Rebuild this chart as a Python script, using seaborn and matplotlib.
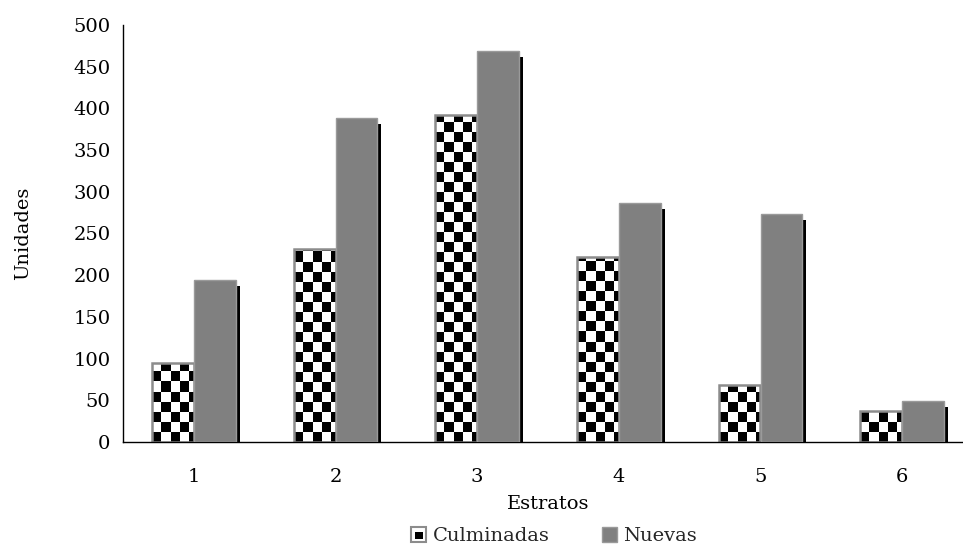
import numpy as np
import pandas as pd
import matplotlib
matplotlib.use("Agg")
import matplotlib.pyplot as plt
import seaborn as sns
from matplotlib.patches import Rectangle
from matplotlib.legend_handler import HandlerBase
from matplotlib import patheffects as pe

# ---- data ----
estratos = ["1", "2", "3", "4", "5", "6"]
culminadas = [95, 232, 392, 222, 68, 37]
nuevas = [194, 388, 469, 287, 273, 49]
series_names = ["Culminadas", "Nuevas"]
y_ticks = [0, 50, 100, 150, 200, 250, 300, 350, 400, 450, 500]

df = pd.DataFrame({
    "Estratos": estratos * 2,
    "Unidades": culminadas + nuevas,
    "Serie": [series_names[0]] * len(estratos) + [series_names[1]] * len(estratos),
})

sns.set_theme(style="white")
plt.rcParams["font.family"] = ["DejaVu Serif"]
FS = 14
plt.rcParams["font.size"] = FS

W, H, DPI = 963, 546, 100
fig = plt.figure(figsize=(W / DPI, H / DPI), dpi=DPI)
ax = fig.add_axes([123 / W, 1 - 442 / H, 850 / W, (442 - 25) / H])

GRAY = "#808080"
sns.barplot(data=df, x="Estratos", y="Unidades", hue="Serie", order=estratos,
            hue_order=series_names, palette=["white", GRAY], width=0.59,
            saturation=1, legend=False, ax=ax, errorbar=None)

ax.set_ylim(0, 500)
ax.set_xlim(-0.5, len(estratos) - 0.5)
ax.set_yticks(y_ticks)
ax.set_yticklabels([str(v) for v in y_ticks], fontsize=FS)
ax.set_xticks(range(len(estratos)))
ax.set_xticklabels(estratos, fontsize=FS)
ax.set_xticks(np.arange(-0.5, len(estratos), 1.0), minor=True)
ax.tick_params(axis="x", which="major", length=0, pad=19)
ax.tick_params(axis="x", which="minor", length=6, width=1, color="black", direction="out")
ax.tick_params(axis="y", which="major", length=5, width=1, color="black", direction="out", pad=4)
ax.tick_params(axis="both", labelcolor="black")
for s in ["top", "right"]:
    ax.spines[s].set_visible(False)
for s in ["left", "bottom"]:
    ax.spines[s].set_color("black")
    ax.spines[s].set_linewidth(1)
ax.set_xlabel("Estratos", fontsize=FS, labelpad=6, color="black")
ax.set_ylabel("Unidades", fontsize=FS, labelpad=30, color="black")
ax.grid(False)

n = len(estratos)
cul_patches = ax.patches[:n]
nue_patches = ax.patches[n:2 * n]

# Nuevas: gray with drop shadow
for p in nue_patches:
    p.set_edgecolor("#9a9a9a")
    p.set_linewidth(1.0)
    p.set_zorder(3)
    p.set_path_effects([pe.SimplePatchShadow(offset=(3.0, -4.3), shadow_rgbFace="black", alpha=1.0),
                        pe.Normal()])

# Culminadas: checkerboard fill clipped to each bar
SQW, SQH = 9.3, 10.0  # px per square
UP = 8
for p in cul_patches:
    p.set_facecolor("white")
    p.set_edgecolor("none")
    p.set_zorder(2)
    x0, y0, w, h = p.get_x(), p.get_y(), p.get_width(), p.get_height()
    (px0, py0) = ax.transData.transform((x0, y0))
    (px1, py1) = ax.transData.transform((x0 + w, y0 + h))
    wpx, hpx = px1 - px0, py1 - py0
    ncol = int(np.ceil(wpx / SQW)) + 1
    nrow = int(np.ceil(hpx / SQH)) + 1
    dx = w / wpx * SQW
    dy = h / hpx * SQH if hpx > 0 else 1
    ii, jj = np.meshgrid(np.arange(nrow), np.arange(ncol), indexing="ij")
    checker = ((ii + jj) % 2 == 0).astype(float)
    checker = np.kron(checker, np.ones((UP, UP)))
    im = ax.imshow(checker, cmap="gray_r", vmin=0, vmax=1, interpolation="nearest",
                   origin="lower", extent=(x0, x0 + ncol * dx, y0, y0 + nrow * dy),
                   aspect="auto", zorder=2.1)
    im.set_clip_path(p)
    edge = Rectangle((x0, y0), w, h, facecolor="none", edgecolor="#8c8c8c",
                     linewidth=1.8, zorder=2.2)
    ax.add_patch(edge)

ax.set_ylim(0, 500)
ax.set_xlim(-0.5, len(estratos) - 0.5)


class CheckerHandler(HandlerBase):
    def create_artists(self, legend, orig_handle, xdescent, ydescent, width, height, fontsize, trans):
        s = min(width, height)
        x = -xdescent + (width - s) / 2
        y = -ydescent + (height - s) / 2
        outer = Rectangle((x, y), s, s, facecolor="white", edgecolor="#8c8c8c", lw=1.5, transform=trans)
        inner = Rectangle((x + s * 0.25, y + s * 0.2), s * 0.5, s * 0.45, facecolor="black",
                          edgecolor="none", transform=trans)
        return [outer, inner]


class GrayHandler(HandlerBase):
    def create_artists(self, legend, orig_handle, xdescent, ydescent, width, height, fontsize, trans):
        s = min(width, height)
        x = -xdescent + (width - s) / 2
        y = -ydescent + (height - s) / 2
        return [Rectangle((x, y), s, s, facecolor=GRAY, edgecolor="#9a9a9a", lw=1, transform=trans)]


h1 = Rectangle((0, 0), 1, 1)
h2 = Rectangle((0, 0), 1, 1)
fig.legend([h1, h2], series_names, handler_map={h1: CheckerHandler(), h2: GrayHandler()},
           loc="center", bbox_to_anchor=(554 / W, 1 - 536 / H), ncol=2, frameon=False,
           fontsize=FS, handlelength=0.8, handleheight=0.8, handletextpad=0.3,
           columnspacing=2.7, borderpad=0)

fig.savefig("out.png", dpi=DPI)
